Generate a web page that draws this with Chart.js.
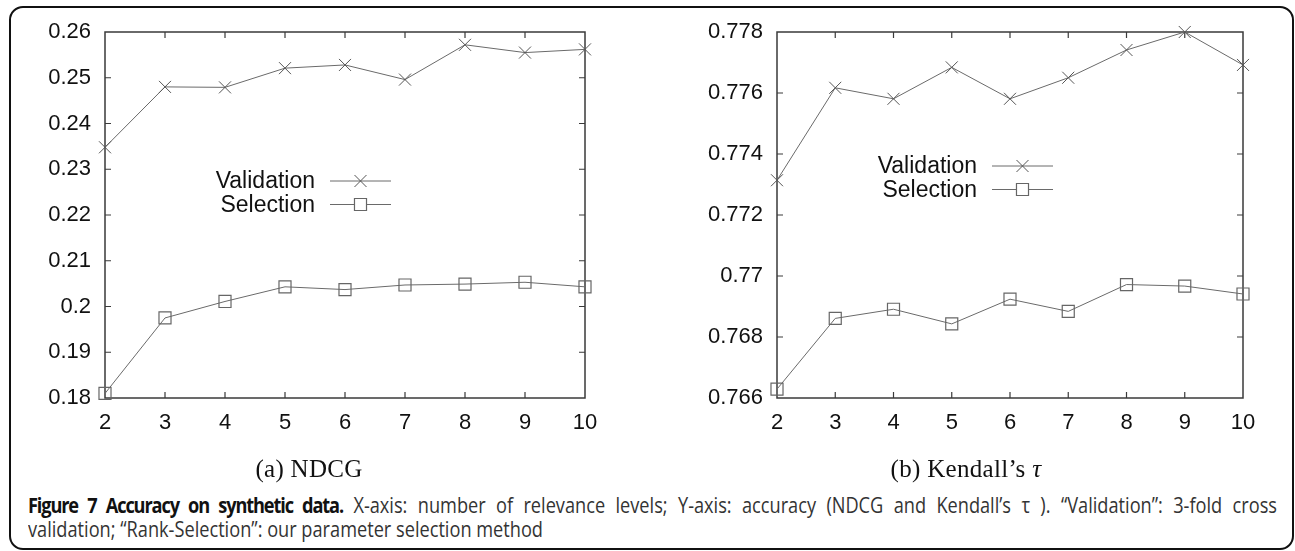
<!DOCTYPE html>
<html><head><meta charset="utf-8">
<script src="https://cdn.jsdelivr.net/npm/chart.js@4"></script>
<style>
html,body{margin:0;padding:0;background:#fff;width:1295px;height:551px;overflow:hidden;position:relative;}
#frame{position:absolute;left:9px;top:6px;width:1285px;height:544px;border:2px solid #111;border-radius:14px;box-sizing:border-box;}
#cA{position:absolute;left:0;top:0;}
#cB{position:absolute;left:640px;top:0;}
.sub{position:absolute;font-family:"Liberation Serif","Times New Roman",serif;font-size:25px;letter-spacing:0.3px;color:#111;transform:translate(-50%,-50%);white-space:nowrap;}
.cap{position:absolute;left:28px;font-family:"Open Sans",sans-serif;font-size:21px;color:#333;transform-origin:0 50%;white-space:nowrap;line-height:24px;}
.cap b{color:#111;letter-spacing:-1.3px;}
#l1{text-align:justify;text-align-last:justify;white-space:normal;}
</style></head>
<body>
<div id="frame"></div>
<canvas id="cA" width="620" height="460"></canvas>
<canvas id="cB" width="655" height="460"></canvas>
<div class="sub" style="left:309px;top:469px;">(a) NDCG</div>
<div class="sub" style="left:966px;top:469px;">(b) Kendall’s <i>τ</i></div>
<div class="cap" id="l1" style="top:493px;"><b>Figure 7 Accuracy on synthetic data.</b> X-axis: number of relevance levels; Y-axis: accuracy (NDCG and Kendall’s τ ). “Validation”: 3-fold cross</div>
<div class="cap" id="l2" style="top:517px;">validation; “Rank-Selection”: our parameter selection method</div>
<script>
const levels = ['2','3','4','5','6','7','8','9','10'];
const seriesNames = ['Validation','Selection'];
const ndcgValidation = [0.2348,0.2480,0.2479,0.2521,0.2528,0.2496,0.2572,0.2555,0.2562];
const ndcgSelection  = [0.1810,0.1975,0.2011,0.2043,0.2037,0.2047,0.2049,0.2053,0.2043];
const kendallValidation = [0.77314,0.77617,0.77581,0.77684,0.77581,0.77650,0.77741,0.77800,0.77692];
const kendallSelection  = [0.76629,0.76861,0.76891,0.76843,0.76924,0.76884,0.76972,0.76967,0.76941];
const ndcgTicks = [0.18,0.19,0.2,0.21,0.22,0.23,0.24,0.25,0.26];
const kendallTicks = [0.766,0.768,0.77,0.772,0.774,0.776,0.778];

// caption scaling
(function(){
  const l2=document.getElementById('l2'), l1=document.getElementById('l1');
  const w2 = l2.getBoundingClientRect().width;
  const s = 515 / w2;
  l2.style.transform='scaleX('+s+')';
  l1.style.width=(1249/s)+'px';
  l1.style.transform='scaleX('+s+')';
})();

const LINE='#6a6a6a';
const frameTicks = {
  id:'frameTicks',
  beforeDatasetsDraw(chart){
    const {ctx, chartArea:a, scales:{x,y}} = chart;
    ctx.save();
    ctx.strokeStyle='#3a3a3a'; ctx.lineWidth=1.5;
    ctx.strokeRect(a.left,a.top,a.right-a.left,a.bottom-a.top);
    ctx.lineWidth=1.2;
    ctx.beginPath();
    x.ticks.forEach((t,i)=>{const px=x.getPixelForTick(i);
      if(i>0&&i<x.ticks.length-1){ctx.moveTo(px,a.top);ctx.lineTo(px,a.top+6);ctx.moveTo(px,a.bottom);ctx.lineTo(px,a.bottom-6);}});
    y.ticks.forEach((t,i)=>{const py=y.getPixelForTick(i);
      if(i>0&&i<y.ticks.length-1){ctx.moveTo(a.left,py);ctx.lineTo(a.left+6,py);ctx.moveTo(a.right,py);ctx.lineTo(a.right-6,py);}});
    ctx.stroke();
    ctx.restore();
  },
  afterDatasetsDraw(chart, args, opts){
    const {ctx, chartArea:a} = chart;
    ctx.save();
    ctx.font='23px "Liberation Sans", Arial, sans-serif';
    ctx.textAlign='right'; ctx.textBaseline='middle';
    chart.data.datasets.forEach((ds,i)=>{
      const tx=a.left+opts.x, ty=a.top+opts.y+i*23.5;
      ctx.fillStyle='#111';
      ctx.fillText(ds.label, tx, ty+1);
      ctx.strokeStyle=ds.borderColor; ctx.lineWidth=1;
      ctx.beginPath(); ctx.moveTo(tx+15,ty); ctx.lineTo(tx+76,ty); ctx.stroke();
      ctx.fillStyle='#ffffff';
      ctx.strokeStyle=ds.pointBorderColor; ctx.lineWidth=ds.pointBorderWidth;
      Chart.helpers.drawPoint(ctx,{pointStyle:ds.pointStyle,radius:ds.pointRadius,borderWidth:ds.pointBorderWidth,rotation:0},tx+45.5,ty);
    });
    ctx.restore();
  }
};

function makeChart(id, vals, sel, yticks, yWidth, pad, leg){
  const fmt = v => String(+v.toFixed(4));
  return new Chart(document.getElementById(id), {
    type:'line',
    data:{labels:levels, datasets:[
      {label:seriesNames[0], data:vals, borderColor:LINE, borderWidth:1, pointStyle:'crossRot', pointRadius:8.5, pointBorderColor:'#555', pointBorderWidth:1, backgroundColor:'transparent', clip:false, tension:0},
      {label:seriesNames[1], data:sel, borderColor:LINE, borderWidth:1, pointStyle:'rect', pointRadius:8.5, pointBorderColor:'#666', pointBorderWidth:1.2, pointBackgroundColor:'transparent', backgroundColor:'transparent', clip:false, tension:0}
    ]},
    options:{
      responsive:false, animation:false, devicePixelRatio:1,
      layout:{padding:pad},
      plugins:{legend:{display:false}, tooltip:{enabled:false}, frameTicks:leg},
      scales:{
        x:{type:'category', offset:false, grid:{display:false, drawTicks:false}, border:{display:false},
           ticks:{font:{family:'"Liberation Sans", Arial', size:22}, color:'#111', padding:12, maxRotation:0, autoSkip:false},
           afterFit(s){s.height=40;}},
        y:{min:yticks[0], max:yticks[yticks.length-1], grid:{display:false, drawTicks:false}, border:{display:false},
           afterBuildTicks(s){s.ticks=yticks.map(v=>({value:v}));},
           ticks:{font:{family:'"Liberation Sans", Arial', size:22}, color:'#111', padding:14, callback:fmt},
           afterFit(s){s.width=yWidth;}}
      }
    },
    plugins:[frameTicks]
  });
}
makeChart('cA', ndcgValidation, ndcgSelection, ndcgTicks, 95, {left:10, top:32, right:35, bottom:22}, {x:210, y:149});
makeChart('cB', kendallValidation, kendallSelection, kendallTicks, 127, {left:10, top:32, right:52, bottom:22}, {x:200, y:134});
</script>
</body></html>
